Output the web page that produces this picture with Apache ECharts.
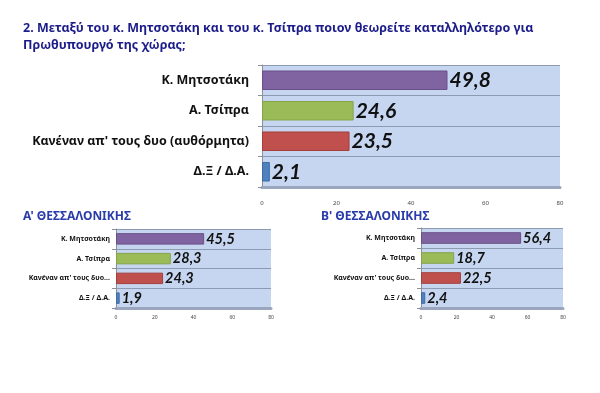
<!DOCTYPE html>
<html><head><meta charset="utf-8">
<script src="https://cdn.jsdelivr.net/npm/echarts@6/dist/echarts.min.js"></script>
<style>html,body{margin:0;padding:0;background:#fff}#c{width:600px;height:393px}</style>
</head><body><div id="c"></div>
<script>
var categories = ['Κ. Μητσοτάκη', 'Α. Τσίπρα', "Κανέναν απ' τους δυο (αυθόρμητα)", 'Δ.Ξ / Δ.Α.'];
var totalValues = [49.8, 24.6, 23.5, 2.1];
var aThessValues = [45.5, 28.3, 24.3, 1.9];
var bThessValues = [56.4, 18.7, 22.5, 2.4];
var barColors = ['#8064a2', '#9bbb59', '#c0504d', '#4f81bd'];
var barBorders = ['#6a5088', '#86a447', '#a43f3c', '#3f6da3'];
var xTicks = [0, 20, 40, 60, 80];
var mainTitle = '2. Μεταξύ του κ. Μητσοτάκη και του κ. Τσίπρα ποιον θεωρείτε καταλληλότερο για\nΠρωθυπουργό της χώρας;';
var subTitles = ["Α' ΘΕΣΣΑΛΟΝΙΚΗΣ", "Β' ΘΕΣΣΑΛΟΝΙΚΗΣ"];

var chart = echarts.init(document.getElementById('c'));
var fmt = function (p) { return p.value.toFixed(1).replace('.', ','); };
var shortLabel = function (s) { return s.length > 20 ? s.slice(0, 20) + '...' : s; };
function mkData(vals) {
  return vals.map(function (v, i) {
    return { value: v, itemStyle: { color: barColors[i], borderColor: barBorders[i], borderWidth: 1 } };
  });
}
var grids = [
  { left: 262, width: 298, top: 65, height: 122 },
  { left: 116, width: 155, top: 229, height: 79 },
  { left: 421, width: 142, top: 228, height: 80 }
];
var catFont = [12.5, 7, 7];
var valFont = [21, 14.5, 14.5];
var xMargin = [13, 7, 7];
var datas = [totalValues, aThessValues, bThessValues];
var barW = ['64%', '58%', '58%'];

var option = {
  animation: false,
  backgroundColor: '#fff',
  title: [
    { text: mainTitle, left: 18, top: 15, textStyle: { fontFamily: 'Noto Sans', fontSize: 12.5, fontWeight: 'bold', color: '#1c1c8a', lineHeight: 17 } },
    { text: subTitles[0], left: 18, top: 206, textStyle: { fontFamily: 'Noto Sans', fontSize: 12, fontWeight: 'bold', color: '#2a3caa' } },
    { text: subTitles[1], left: 316, top: 206, textStyle: { fontFamily: 'Noto Sans', fontSize: 12, fontWeight: 'bold', color: '#2a3caa' } }
  ],
  grid: grids.map(function (g) {
    return Object.assign({ show: true, backgroundColor: '#c6d6f0', borderWidth: 0, containLabel: false }, g);
  }),
  xAxis: grids.map(function (g, i) {
    return {
      type: 'value', gridIndex: i, min: xTicks[0], max: xTicks[xTicks.length - 1], interval: 20,
      axisLine: { show: true, lineStyle: { color: '#9aa6bd', width: 3 } },
      axisTick: { show: false }, splitLine: { show: false },
      axisLabel: { fontSize: i === 0 ? 6 : 5, color: '#444', margin: xMargin[i], fontFamily: 'Noto Sans' }
    };
  }),
  yAxis: grids.map(function (g, i) {
    return {
      type: 'category', gridIndex: i, data: categories, inverse: true,
      axisLine: { show: true, lineStyle: { color: '#8a8f99', width: 1 } },
      axisTick: { show: true, length: 4, lineStyle: { color: '#8a8f99' } },
      splitLine: { show: true, lineStyle: { color: '#8c9ab2', width: 1 } },
      axisLabel: i === 0
        ? { fontSize: catFont[i], fontWeight: 'bold', color: '#111', margin: 13, fontFamily: 'Noto Sans' }
        : { fontSize: catFont[i], fontWeight: 'bold', color: '#111', margin: 6, fontFamily: 'Noto Sans', formatter: shortLabel }
    };
  }),
  series: datas.map(function (d, i) {
    return {
      type: 'bar', xAxisIndex: i, yAxisIndex: i, data: mkData(d), barWidth: barW[i],
      label: { show: true, position: 'right', distance: 2, formatter: fmt, fontSize: valFont[i], fontWeight: 'bold', fontStyle: 'italic', color: '#111', fontFamily: 'Lato' }
    };
  })
};
chart.setOption(option);
</script></body></html>
